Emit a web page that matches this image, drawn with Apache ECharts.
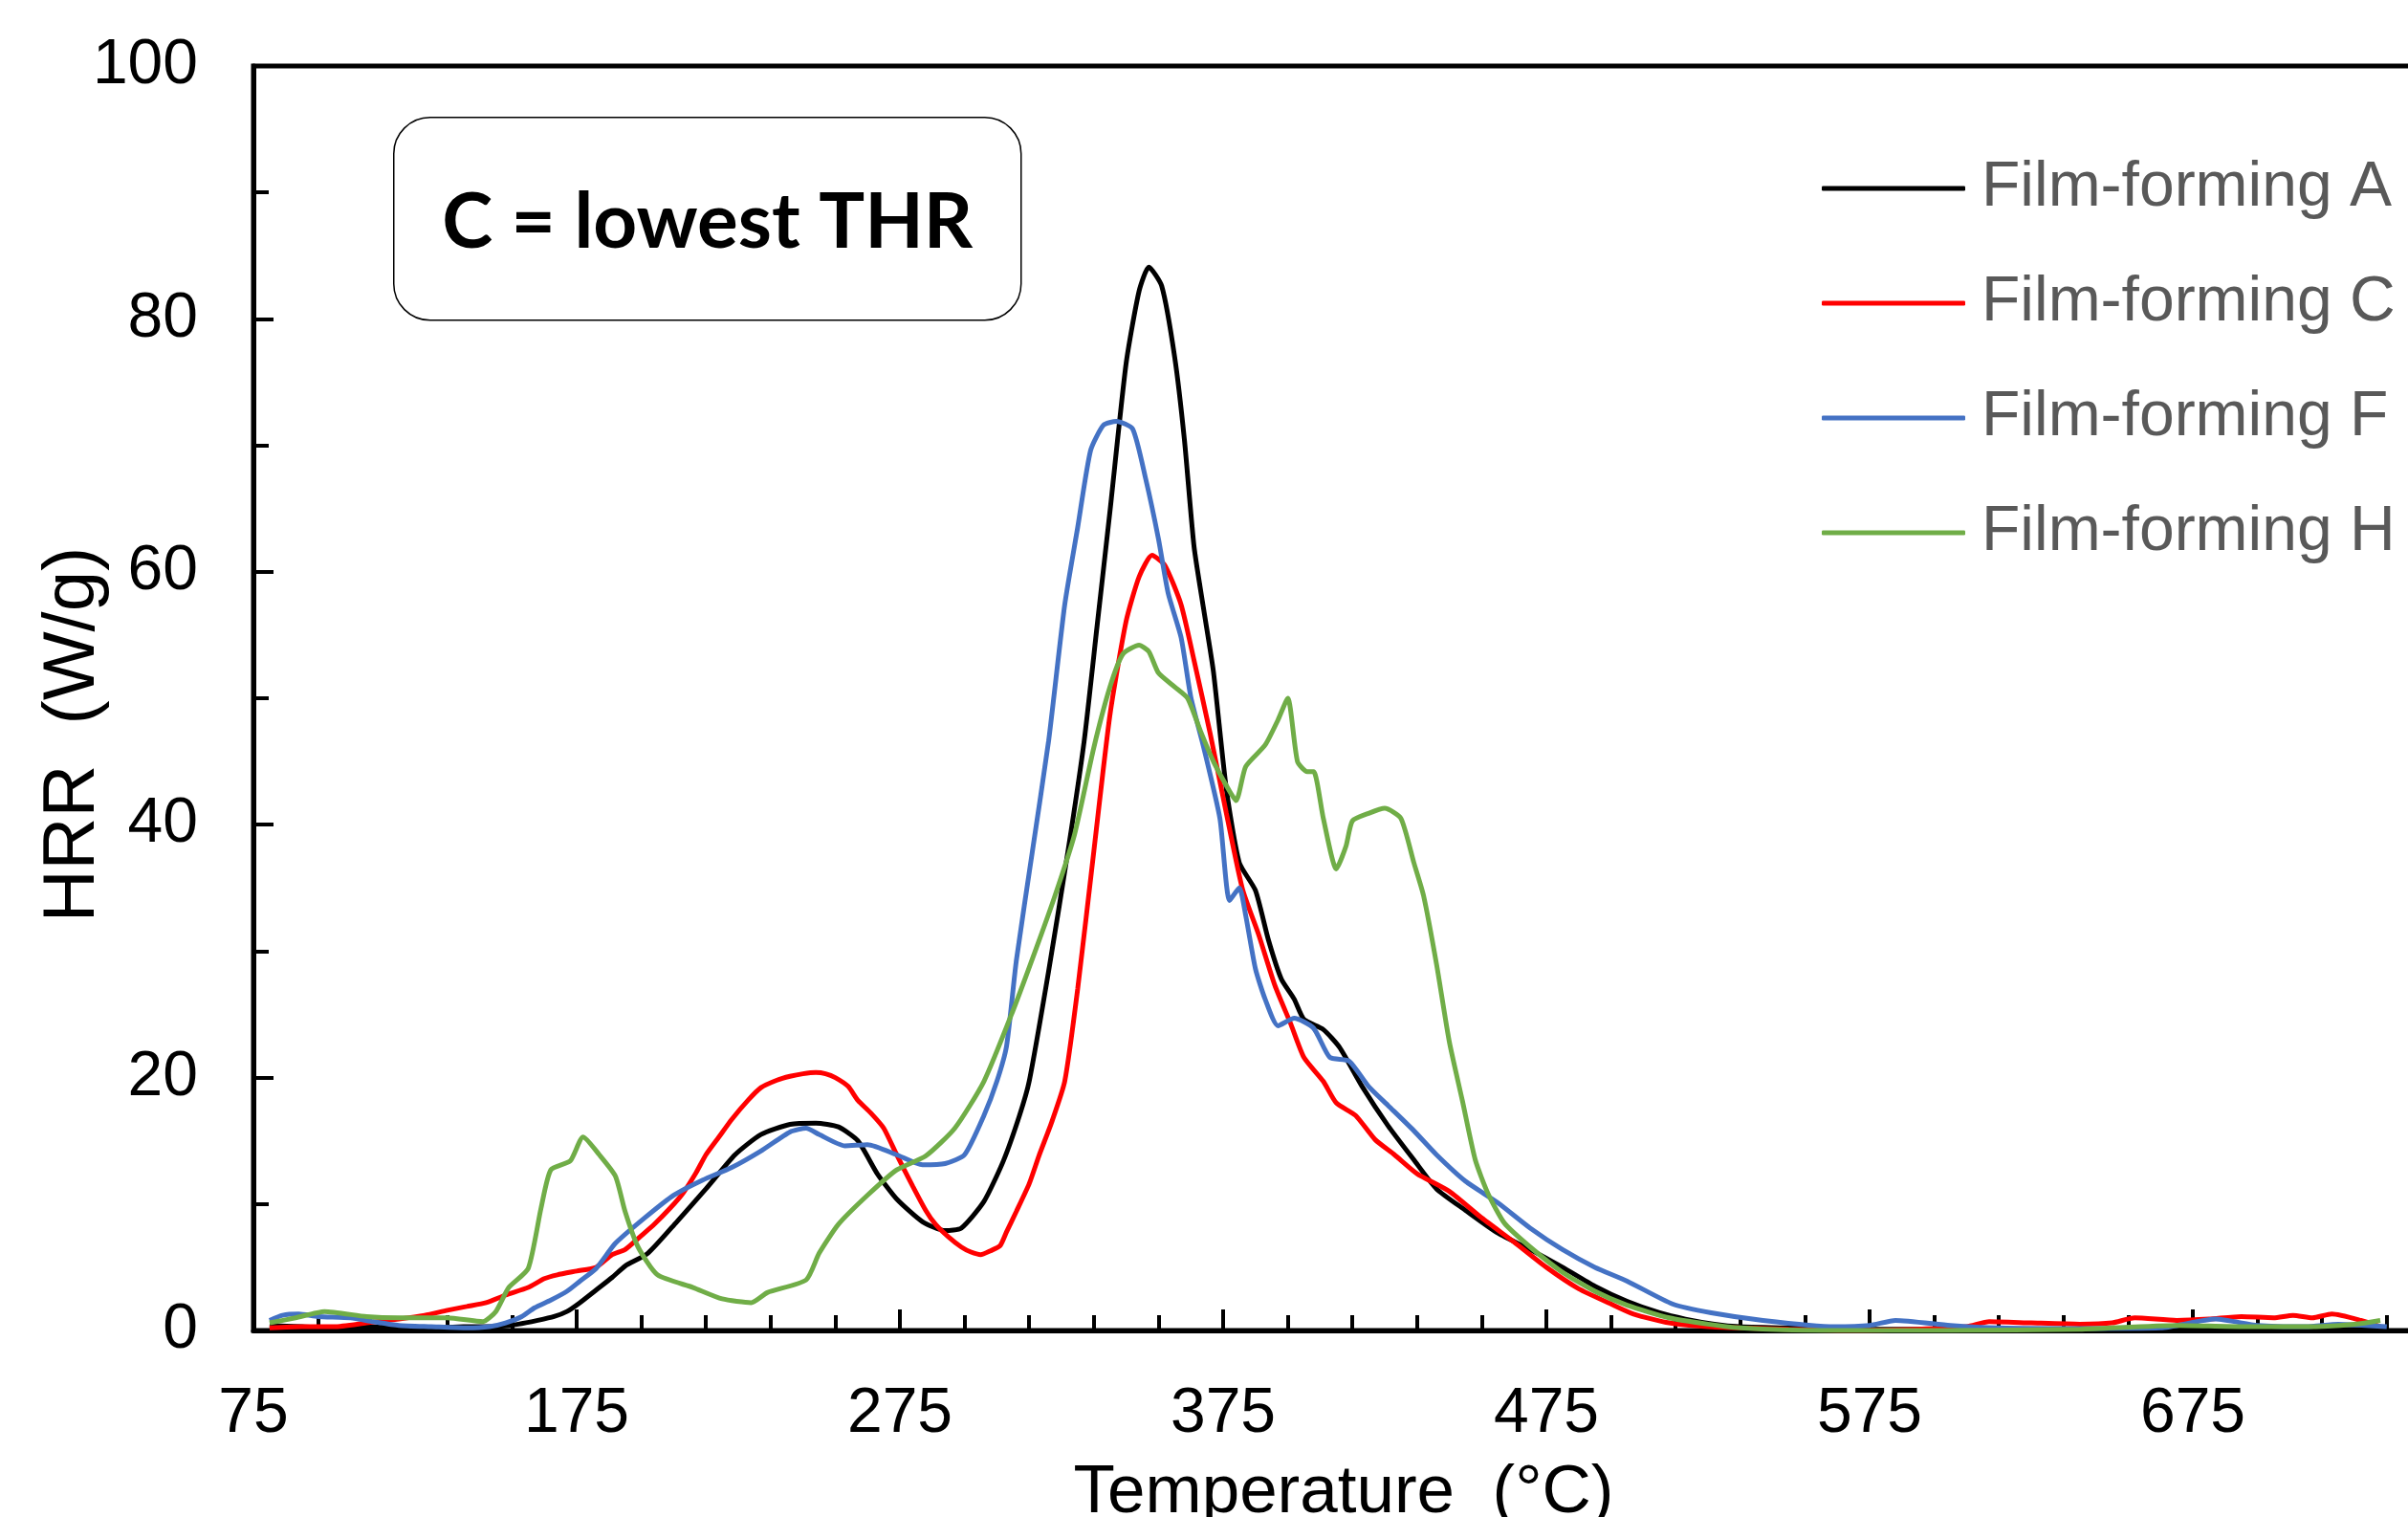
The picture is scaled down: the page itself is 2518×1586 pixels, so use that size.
<!DOCTYPE html>
<html>
<head>
<meta charset="utf-8">
<script src="https://cdn.jsdelivr.net/npm/echarts@6/dist/echarts.min.js"></script>
<style>
html,body{margin:0;padding:0;background:#fff;}
#chart{width:2518px;height:1586px;}
</style>
</head>
<body>
<div id="chart"></div>
<script>
// ---- Data ----
const seriesNames = ['Film-forming A', 'Film-forming C', 'Film-forming F', 'Film-forming H'];
const seriesColors = ['#000000', '#FF0000', '#4472C4', '#70AD47'];

const tempA = [80, 90, 100, 110, 120, 130, 140, 150, 157, 163, 168, 172, 176, 181, 186, 190, 197, 206, 215, 224, 232, 241, 249, 256, 262, 268, 274, 282, 289, 294, 301, 307, 312, 315, 321, 327, 332, 336, 340, 345, 349, 352, 356, 360, 363, 366, 369, 372, 376, 380, 385, 389, 393, 397, 400, 406, 411, 418, 426, 434, 441, 450, 460, 470, 480, 490, 500, 510, 518, 527, 535, 550, 575, 600, 625, 650, 675, 700, 720, 735];
const hrrA = [0.4, 0.3, 0.2, 0.3, 0.2, 0.2, 0.3, 0.3, 0.5, 0.8, 1.1, 1.5, 2.2, 3.2, 4.2, 5.1, 6.1, 8.6, 11.2, 13.9, 15.5, 16.3, 16.4, 16.1, 15.0, 12.4, 10.4, 8.6, 7.9, 8.1, 10.2, 13.4, 17.0, 19.7, 28.4, 37.9, 46.6, 55.7, 64.8, 76.5, 82.2, 84.1, 82.6, 77.0, 70.5, 62.0, 57.0, 52.1, 42.8, 37.0, 34.8, 30.9, 27.8, 26.2, 24.6, 23.8, 22.4, 19.3, 16.2, 13.5, 11.2, 9.5, 7.7, 6.4, 5.0, 3.5, 2.3, 1.4, 0.9, 0.5, 0.3, 0.2, 0.1, 0.1, 0.1, 0.1, 0.1, 0.1, 0.1, 0.1];

const tempC = [80, 90, 100, 110, 120, 128, 135, 141, 147, 153, 160, 165, 169, 175, 181, 186, 190, 195, 199, 204, 208, 212, 215, 219, 223, 228, 232, 237, 241, 245, 249, 252, 255, 259, 262, 266, 270, 274, 279, 283, 286, 290, 294, 297, 300, 303, 306, 308, 311, 315, 318, 322, 326, 330, 335, 340, 345, 349, 353, 357, 362, 366, 371, 376, 381, 386, 391, 396, 400, 406, 410, 416, 422, 428, 435, 445, 455, 465, 475, 485, 495, 502, 513, 525, 535, 550, 567, 590, 605, 612, 625, 640, 650, 657, 670, 680, 690, 700, 706, 712, 718, 727, 733];
const hrrC = [0.2, 0.3, 0.3, 0.6, 0.9, 1.2, 1.6, 1.9, 2.2, 2.8, 3.4, 4.1, 4.4, 4.7, 5.0, 6.0, 6.4, 7.5, 8.4, 9.7, 10.9, 12.5, 13.9, 15.3, 16.7, 18.2, 19.2, 19.8, 20.1, 20.3, 20.4, 20.3, 20.0, 19.3, 18.2, 17.2, 16.0, 13.9, 11.4, 9.5, 8.4, 7.4, 6.6, 6.2, 6.0, 6.3, 6.7, 7.8, 9.4, 11.6, 13.8, 16.5, 19.7, 27.0, 37.9, 48.7, 56.1, 59.6, 61.3, 60.5, 57.4, 53.0, 47.2, 40.9, 34.9, 31.3, 27.3, 24.2, 21.6, 19.7, 18.0, 17.0, 15.1, 13.9, 12.4, 11.0, 8.9, 7.0, 5.0, 3.3, 2.1, 1.3, 0.6, 0.3, 0.2, 0.1, 0.0, 0.1, 0.3, 0.7, 0.6, 0.5, 0.6, 1.0, 0.8, 0.9, 1.1, 1.0, 1.2, 1.0, 1.3, 0.8, 0.3];

const tempF = [80, 84, 89, 95, 105, 112, 120, 130, 141, 148, 153, 158, 162, 167, 172, 176, 181, 187, 196, 205, 214, 223, 232, 241, 246, 250, 258, 265, 274, 282, 289, 295, 301, 305, 308, 311, 316, 321, 326, 330, 334, 338, 342, 347, 351, 355, 358, 362, 365, 369, 374, 377, 380, 382, 385, 388, 392, 397, 403, 408, 414, 420, 426, 434, 441, 450, 460, 470, 480, 490, 500, 514, 526, 542, 564, 575, 583, 600, 615, 640, 665, 682, 695, 710, 720, 735];
const hrrF = [0.8, 1.2, 1.3, 1.1, 1.0, 0.7, 0.4, 0.3, 0.2, 0.3, 0.6, 1.1, 1.8, 2.4, 3.1, 3.9, 4.9, 6.9, 8.9, 10.7, 11.9, 12.9, 14.2, 15.7, 16.0, 15.5, 14.6, 14.7, 13.9, 13.1, 13.2, 13.9, 17.0, 19.7, 22.5, 29.2, 37.9, 46.6, 57.4, 63.5, 69.6, 71.6, 71.9, 71.3, 67.4, 62.6, 58.3, 54.8, 50.1, 46.1, 40.5, 34.0, 35.0, 32.8, 28.6, 26.2, 24.1, 24.7, 23.9, 21.6, 21.3, 19.3, 17.8, 15.8, 13.9, 11.8, 10.1, 8.1, 6.4, 5.0, 3.9, 2.1, 1.4, 0.8, 0.3, 0.4, 0.8, 0.4, 0.2, 0.15, 0.2, 0.9, 0.4, 0.3, 0.5, 0.3];

const tempH = [80, 88, 97, 110, 120, 135, 146, 150, 154, 160, 164, 167, 173, 177, 182, 187, 190, 194, 200, 211, 220, 229, 234, 246, 250, 256, 265, 274, 283, 292, 301, 310, 317, 323, 329, 335, 340, 344, 349, 352, 355, 360, 364, 368, 372, 376, 379, 382, 388, 392, 395, 398, 401, 403, 406, 410, 413, 415, 420, 425, 430, 434, 437, 441, 445, 449, 453, 457, 462, 470, 480, 490, 500, 513, 525, 535, 560, 600, 640, 670, 690, 710, 725, 733];
const hrrH = [0.6, 1.0, 1.5, 1.1, 1.0, 1.0, 0.7, 1.5, 3.4, 4.9, 9.7, 12.7, 13.4, 15.3, 13.9, 12.2, 9.4, 6.6, 4.4, 3.4, 2.5, 2.2, 3.0, 4.0, 6.1, 8.4, 10.7, 12.7, 13.8, 16.0, 19.7, 25.3, 30.1, 34.4, 39.2, 46.1, 50.9, 53.5, 54.2, 53.7, 52.0, 50.9, 50.0, 47.4, 45.0, 43.1, 41.9, 44.6, 46.3, 48.3, 50.0, 45.0, 44.2, 44.2, 40.5, 36.5, 38.3, 40.3, 40.9, 41.3, 40.5, 37.0, 34.4, 29.0, 22.8, 18.2, 13.5, 10.8, 8.5, 6.6, 4.6, 3.1, 2.0, 1.0, 0.5, 0.2, 0.0, 0.0, 0.1, 0.4, 0.3, 0.3, 0.5, 0.8];

const xTicks = [75, 175, 275, 375, 475, 575, 675];
const yTicks = [0, 20, 40, 60, 80, 100];
const annotationText = 'C = lowest THR';
// ------------------------------------------------

const temps = [tempA, tempC, tempF, tempH];
const hrrs = [hrrA, hrrC, hrrF, hrrH];
const pairs = (t, h) => t.map((v, i) => [v, h[i]]);

const FONT = '"Liberation Sans", Arial, sans-serif';
const chart = echarts.init(document.getElementById('chart'), null, {renderer: 'canvas'});

const option = {
  animation: false,
  backgroundColor: '#ffffff',
  grid: {
    left: 265, top: 69, width: 2366, height: 1322,
    containLabel: false,
    outerBoundsMode: 'none',
    show: true, borderColor: '#000', borderWidth: 5, backgroundColor: 'transparent'
  },
  legend: {
    orient: 'vertical',
    left: 1900, top: 157,
    icon: 'roundRect',
    itemWidth: 150, itemHeight: 5, itemGap: 50,
    data: seriesNames,
    textStyle: {color: '#595959', fontSize: 66, fontFamily: FONT, lineHeight: 70, padding: [0, 0, 0, 12]}
  },
  xAxis: {
    type: 'value',
    min: 75, max: 775, interval: 100,
    name: 'Temperature  (°C)',
    nameLocation: 'middle', nameGap: 135,
    nameMoveOverlap: false,
    nameTextStyle: {fontSize: 71, fontFamily: FONT, color: '#000', padding: [0, 86, 0, 0]},
    axisLine: {show: true, onZero: false, lineStyle: {color: '#000', width: 5}},
    axisTick: {show: true, inside: true, length: 22, lineStyle: {color: '#000', width: 4}},
    minorTick: {show: true, splitNumber: 5, length: 16, lineStyle: {color: '#000', width: 4}},
    splitLine: {show: false},
    axisLabel: {
      fontSize: 66, fontFamily: FONT, color: '#000', margin: 55,
      formatter: v => (xTicks.indexOf(v) >= 0 ? String(v) : '')
    }
  },
  yAxis: {
    type: 'value',
    min: 0, max: 100, interval: 20,
    name: 'HRR  (W/g)',
    nameLocation: 'middle', nameGap: 150,
    nameMoveOverlap: false,
    nameTextStyle: {fontSize: 76, fontFamily: FONT, color: '#000', padding: [0, 76, 0, 0]},
    axisLine: {show: true, lineStyle: {color: '#000', width: 5}},
    axisTick: {show: true, inside: true, length: 21, lineStyle: {color: '#000', width: 4}},
    minorTick: {show: true, splitNumber: 2, length: 16, lineStyle: {color: '#000', width: 4}},
    splitLine: {show: false},
    axisLabel: {
      fontSize: 66, fontFamily: FONT, color: '#000', margin: 58,
      formatter: v => (yTicks.indexOf(v) >= 0 ? String(v) : '')
    }
  },
  series: seriesNames.map((name, i) => ({
    name: name,
    type: 'line',
    data: pairs(temps[i], hrrs[i]),
    showSymbol: false,
    symbol: 'none',
    smooth: 0.2,
    color: seriesColors[i],
    lineStyle: {color: seriesColors[i], width: 5}
  })),
  graphic: [{
    type: 'group',
    left: 411, top: 122,
    children: [
      {type: 'rect', shape: {x: 0, y: 0, width: 656, height: 212, r: 38},
       style: {fill: '#fff', stroke: '#000', lineWidth: 1.5}},
      {type: 'text', x: 328, y: 110,
       style: {text: annotationText, fill: '#000', font: 'bold 80px Lato, "Open Sans", sans-serif',
               textAlign: 'center', textVerticalAlign: 'middle'}}
    ]
  }]
};
chart.setOption(option);
</script>
</body>
</html>
